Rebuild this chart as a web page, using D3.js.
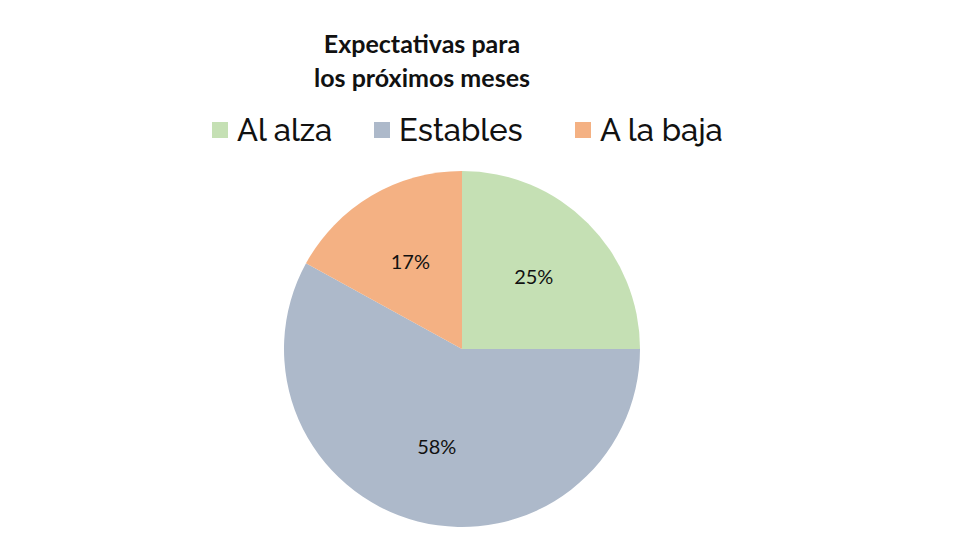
<!DOCTYPE html>
<html>
<head>
<meta charset="utf-8">
<script src="https://cdn.jsdelivr.net/npm/d3@7"></script>
<style>
  body { margin: 0; background: #fff; }
  svg { display: block; }
</style>
</head>
<body>
<svg id="chart"></svg>
<script>
// chart data
const categories = ['Al alza', 'Estables', 'A la baja'];
const values = [25, 58, 17];
const colors = ['#C5E0B4', '#ADB9CA', '#F4B183'];
const titleLines = ['Expectativas para', 'los próximos meses'];

const width = 980, height = 560;
const cx = 462, cy = 349, radius = 178;

const svg = d3.select('#chart')
    .attr('width', width)
    .attr('height', height);

// title
svg.append('text')
    .attr('x', 422)
    .attr('y', 53)
    .attr('text-anchor', 'middle')
    .style('font-family', 'Lato, "Open Sans", sans-serif')
    .style('font-weight', 'bold')
    .style('font-size', '25px')
    .style('fill', '#111')
    .selectAll('tspan')
    .data(titleLines)
    .enter().append('tspan')
    .attr('x', 422)
    .attr('dy', (d, i) => i === 0 ? 0 : 34)
    .text(d => d);

// legend
const colorScale = d3.scaleOrdinal().domain(categories).range(colors);
const legendX = [212, 374, 575];

const legend = svg.append('g').attr('class', 'legend');
const items = legend.selectAll('g')
    .data(categories)
    .enter().append('g')
    .attr('transform', (d, i) => `translate(${legendX[i]}, 122)`);

items.append('rect')
    .attr('width', 16)
    .attr('height', 16)
    .attr('fill', d => colorScale(d));

items.append('text')
    .attr('x', 25)
    .attr('y', 19)
    .style('font-family', 'Raleway, Lato, "Noto Sans", sans-serif')
    .style('font-weight', 500)
    .style('font-size', '31px')
    .style('fill', '#111')
    .text(d => d);

// pie
const pie = d3.pie().sort(null).value(d => d.value);
const arcs = pie(categories.map((c, i) => ({ name: c, value: values[i] })));

const arc = d3.arc().innerRadius(0).outerRadius(radius);
const labelArc = d3.arc().innerRadius(radius * 0.57).outerRadius(radius * 0.57);

const g = svg.append('g').attr('transform', `translate(${cx}, ${cy})`);

g.selectAll('path')
    .data(arcs)
    .enter().append('path')
    .attr('d', arc)
    .attr('fill', d => colorScale(d.data.name));

g.selectAll('.slice-label')
    .data(arcs)
    .enter().append('text')
    .attr('class', 'slice-label')
    .attr('transform', d => `translate(${labelArc.centroid(d)})`)
    .attr('text-anchor', 'middle')
    .attr('dy', '0.35em')
    .style('font-family', 'Lato, "Open Sans", sans-serif')
    .style('font-size', '20px')
    .style('fill', '#111')
    .text(d => d.data.value + '%');
</script>
</body>
</html>
